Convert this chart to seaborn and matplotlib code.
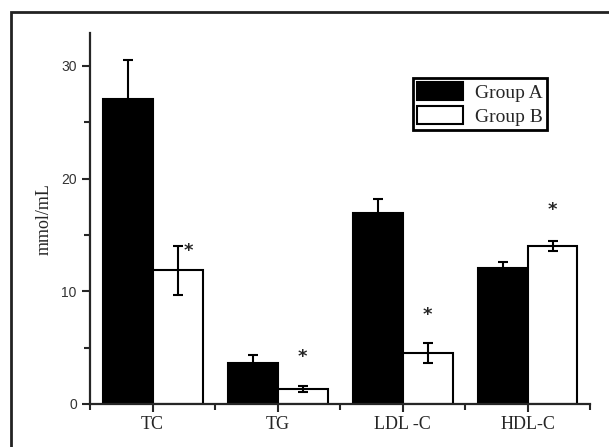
import pandas as pd
import seaborn as sns
import numpy as np
import matplotlib.pyplot as plt
from matplotlib.patches import Rectangle
from matplotlib.ticker import MultipleLocator, FixedLocator

# values
categories = ['TC', 'TG', 'LDL-C', 'HDL-C']
tick_labels = ['TC', 'TG', 'LDL -C', 'HDL-C']
groups = ['Group A', 'Group B']
group_a = [27.1, 3.64, 16.97, 12.04]
group_b = [11.86, 1.33, 4.5, 14.05]
err_a = [3.4, 0.7, 1.25, 0.55]
err_b = [2.2, 0.3, 0.9, 0.45]
star_y = [13.6, 4.2, 7.9, 17.2]
star_dx = [0.09, 0.0, 0.0, 0.0]

df = pd.DataFrame({
    'cat': categories * 2,
    'val': group_a + group_b,
    'group': [groups[0]] * 4 + [groups[1]] * 4,
})

sns.set_style('ticks')
plt.rcParams['font.family'] = ['Liberation Serif', 'DejaVu Serif']

fig = plt.figure(figsize=(6.09, 4.47), dpi=100)
ax = fig.add_axes([0.1478, 0.0962, 0.821, 0.8295])

sns.barplot(data=df, x='cat', y='val', hue='group', order=categories,
            hue_order=groups, palette={'Group A': 'black', 'Group B': 'white'},
            edgecolor='black', linewidth=1.5, width=0.8, errorbar=None, ax=ax)

# error bars on top of each bar
for cont, errs in zip(ax.containers, [err_a, err_b]):
    for bar, e in zip(cont, errs):
        cx = bar.get_x() + bar.get_width() / 2
        ax.errorbar(cx, bar.get_height(), yerr=e, fmt='none', ecolor='black',
                    elinewidth=1.5, capsize=3.5, capthick=1.5, zorder=3)

# significance marks over group B
for bar, sy, dx in zip(ax.containers[1], star_y, star_dx):
    cx = bar.get_x() + bar.get_width() / 2 + dx
    ax.text(cx, sy, '*', ha='center', va='center', fontsize=13,
            fontweight='bold', family='DejaVu Sans')

ax.set_xlim(-0.5, 3.5)
ax.set_ylim(0, 32.9)
ax.set_xticks(range(4))
ax.set_xticklabels(tick_labels, fontsize=13)
ax.xaxis.set_minor_locator(FixedLocator([-0.5, 0.5, 1.5, 2.5, 3.5]))
ax.yaxis.set_major_locator(MultipleLocator(10))
ax.yaxis.set_minor_locator(MultipleLocator(5))
for lab in ax.get_yticklabels():
    lab.set_family('Liberation Sans')
    lab.set_fontsize(10)
    lab.set_color('#333333')
ax.tick_params(axis='both', which='major', length=6, width=1.5, direction='out')
ax.tick_params(axis='both', which='minor', length=4, width=1.5, direction='out')
ax.tick_params(axis='x', pad=3)
ax.set_xlabel('')
ax.set_ylabel('mmol/mL', fontsize=13, labelpad=6)
sns.despine(ax=ax)
for s in ['left', 'bottom']:
    ax.spines[s].set_linewidth(1.6)

leg = ax.legend(loc='upper right', bbox_to_anchor=(0.898, 0.8255),
                bbox_transform=fig.transFigure, fontsize=14, frameon=True,
                fancybox=False, framealpha=1, handlelength=2.4,
                handleheight=1.05, borderpad=0.2, labelspacing=0.25,
                handletextpad=0.6, borderaxespad=0)
leg.get_frame().set_edgecolor('black')
leg.get_frame().set_linewidth(2)
for h in leg.legend_handles:
    h.set_edgecolor('black')
    h.set_linewidth(1.5)

# outer frame of the figure panel
fig.patches.append(Rectangle((11 / 609, -0.1), 1.2, 1.1 - 12 / 447,
                             transform=fig.transFigure, fill=False,
                             edgecolor='#222222', linewidth=2))

fig.savefig('out.png', dpi=100)
